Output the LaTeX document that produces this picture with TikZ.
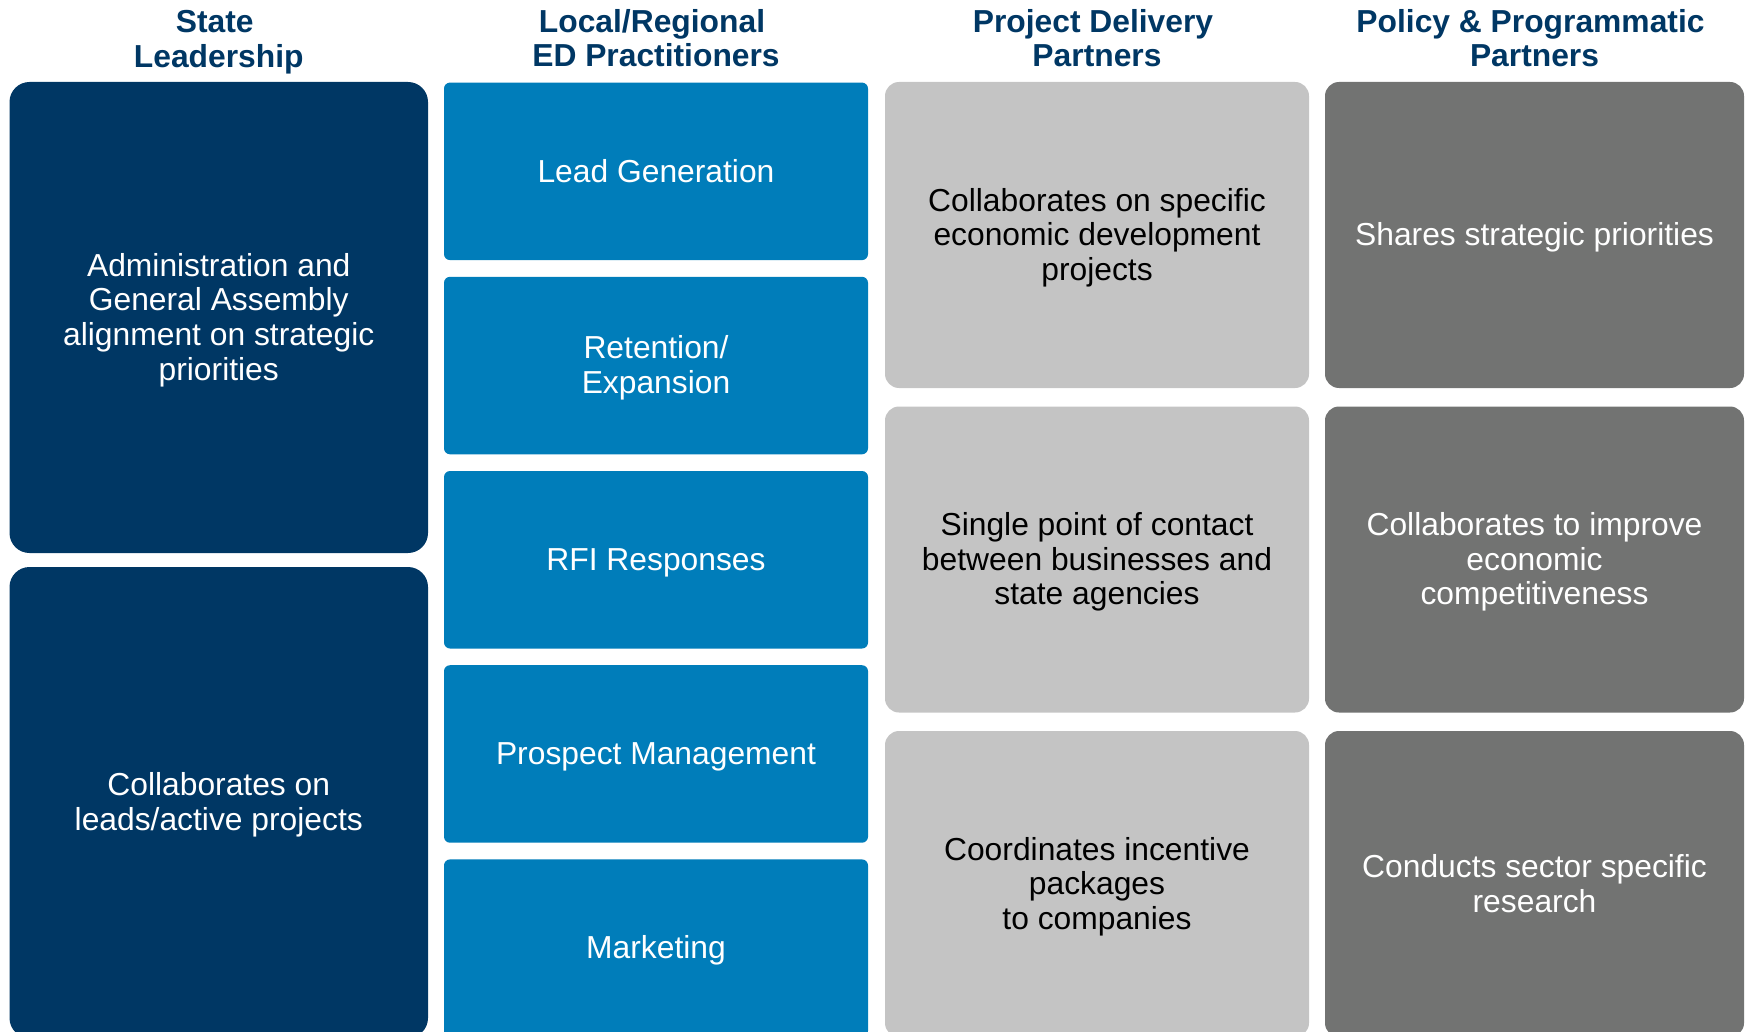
\documentclass[tikz,border=0pt]{standalone}
\usepackage{fontspec}
\setmainfont{Liberation Sans}
\definecolor{navy}{RGB}{0,55,100}
\definecolor{midblue}{RGB}{0,125,186}
\definecolor{lightgrey}{RGB}{196,196,196}
\definecolor{darkgrey}{RGB}{114,115,114}
\newcommand{\trail}{\hspace*{4pt}}
\begin{document}
\begin{tikzpicture}[x=0.5pt,y=-0.5pt,
  txt/.style={font=\fontsize{15.9pt}{17.3pt}\selectfont, align=center, inner sep=0pt},
  head/.style={txt, font=\fontsize{15.9pt}{17.3pt}\selectfont\bfseries, text=navy},
  cell/.style={inner sep=0pt, draw=none},
  leadcell/.style={cell, fill=navy, rounded corners=10pt, minimum width=209.25pt, minimum height=235.5pt},
  bluecell/.style={cell, fill=midblue, rounded corners=3pt, minimum width=212pt, minimum height=88.75pt},
  lightcell/.style={cell, fill=lightgrey, rounded corners=7pt, minimum width=212pt, minimum height=153pt},
  darkcell/.style={cell, fill=darkgrey, rounded corners=7pt, minimum width=209.5pt, minimum height=153pt},
  wtxt/.style={txt, text=white},
  btxt/.style={txt, text=black},
  inside/.style={yshift=-1.9pt}
]
\useasboundingbox (0,0) rectangle (1750,1032);
\clip (0,0) rectangle (1750,1032);

% column headings
\node[head] (h1) at (218.75,42) {State\trail\\Leadership};
\node[head] (h2) at (656,38) {Local/Regional\trail\\ED Practitioners};
\node[head] (h3) at (1097,38) {Project Delivery\trail\\Partners};
\node[head] (h4) at (1534.5,38) {Policy \& Programmatic\trail\\Partners};

% state leadership
\node[leadcell] (s1) at (218.75,317.5) {};
\node[leadcell] (s2) at (218.75,802.5) {};
\node[wtxt] (s1t) at ([inside]s1.center)
  {\strut Administration and\\\strut General Assembly\\\strut alignment on strategic\\\strut priorities};
\node[wtxt] (s2t) at ([inside]s2.center)
  {\strut Collaborates on\\\strut leads/active projects};

% local / regional practitioners
\node[bluecell] (l1) at (656,171.35) {};
\node[bluecell] (l2) at (656,365.55) {};
\node[bluecell] (l3) at (656,559.75) {};
\node[bluecell] (l4) at (656,753.95) {};
\node[bluecell] (l5) at (656,948.15) {};
\node[wtxt] (l1t) at ([inside]l1.center) {\strut Lead Generation};
\node[wtxt] (l2t) at ([inside]l2.center) {\strut Retention/\\\strut Expansion};
\node[wtxt] (l3t) at ([inside]l3.center) {\strut RFI Responses};
\node[wtxt] (l4t) at ([inside]l4.center) {\strut Prospect Management};
\node[wtxt] (l5t) at ([inside]l5.center) {\strut Marketing};

% project delivery partners
\node[lightcell] (p1) at (1097,235) {};
\node[lightcell] (p2) at (1097,559.5) {};
\node[lightcell] (p3) at (1097,884) {};
\node[btxt] (p1t) at ([inside]p1.center)
  {\strut Collaborates on specific\\\strut economic development\\\strut projects};
\node[btxt] (p2t) at ([inside]p2.center)
  {\strut Single point of contact\\\strut between businesses and\\\strut state agencies};
\node[btxt] (p3t) at ([inside]p3.center)
  {\strut Coordinates incentive\\\strut packages\\\strut to companies};

% policy and programmatic partners
\node[darkcell] (q1) at (1534.5,235) {};
\node[darkcell] (q2) at (1534.5,559.5) {};
\node[darkcell] (q3) at (1534.5,884) {};
\node[wtxt] (q1t) at ([inside]q1.center) {\strut Shares strategic priorities};
\node[wtxt] (q2t) at ([inside]q2.center)
  {\strut Collaborates to improve\\\strut economic\\\strut competitiveness};
\node[wtxt] (q3t) at ([inside]q3.center)
  {\strut Conducts sector specific\\\strut research};
\end{tikzpicture}
\end{document}
